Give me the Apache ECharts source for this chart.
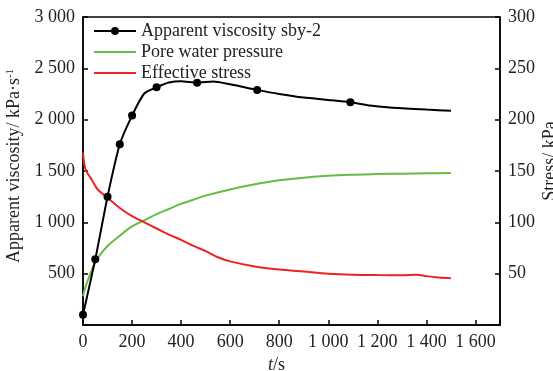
<!DOCTYPE html>
<html>
<head>
<meta charset="utf-8">
<script src="https://cdn.jsdelivr.net/npm/echarts@6/dist/echarts.min.js"></script>
<style>
html,body{margin:0;padding:0;background:#fff;}
#chart{width:553px;height:371px;}
</style>
</head>
<body>
<div id="chart"></div>
<script>
// apparent viscosity (kPa·s^-1), left axis
var viscTime = [0,50,100,150,200,250,300,350,400,465,530,600,710,800,900,1000,1090,1170,1250,1300,1400,1500];
var viscVal  = [100,640,1250,1760,2040,2255,2315,2362,2375,2360,2372,2345,2290,2250,2215,2192,2170,2138,2118,2112,2098,2086];
var viscMarkerTime = [0,50,100,150,200,300,465,710,1090];
// pore water pressure (kPa), right axis
var poreTime = [0,10,25,50,75,100,150,200,250,300,350,400,450,500,600,700,800,900,1000,1100,1200,1300,1400,1500];
var poreVal  = [28,37,47,61,70,77,87,96,102,108,113,118,122,126,132,137,141,143.5,145.3,146.3,147,147.4,147.8,148];
// effective stress (kPa), right axis
var effTime = [0,10,37,60,100,150,200,250,300,350,400,450,500,550,600,700,800,900,1000,1100,1200,1300,1360,1400,1450,1500];
var effVal  = [168,152,141,132,124,114,106,100,94,88,83,77,72,66,62,57,54,52,50,49,48.6,48.5,49,47.6,46.3,45.5];

var xTicks = [0,200,400,600,800,1000,1200,1400,1600];

function spaced(v){
    // 1000 -> "1 000"
    var s = String(v);
    if(s.length > 3){ s = s.slice(0, s.length-3) + ' ' + s.slice(-3); }
    return s;
}

var viscData = [];
for(var i=0;i<viscTime.length;i++){
    var item = {value:[viscTime[i], viscVal[i]]};
    if(viscMarkerTime.indexOf(viscTime[i]) < 0){ item.symbol = 'none'; }
    viscData.push(item);
}
var poreData = poreTime.map(function(t,i){ return [t, poreVal[i]]; });
var effData = effTime.map(function(t,i){ return [t, effVal[i]]; });

var font = 'Liberation Serif';
var txt = '#222';

var myChart = echarts.init(document.getElementById('chart'));
var option = {
    animation:false,
    textStyle:{fontFamily:font},
    grid:{left:83,right:53,top:17,bottom:46,outerBoundsMode:'none',containLabel:false,
        show:true,borderColor:'#000',borderWidth:1.5,backgroundColor:'transparent'},
    legend:{
        orient:'vertical',left:88,top:17,itemWidth:42,itemHeight:10,itemGap:3,
        textStyle:{fontFamily:font,fontSize:18,color:txt,lineHeight:18},
        data:['Apparent viscosity sby-2','Pore water pressure','Effective stress']
    },
    xAxis:{
        type:'value',min:0,max:1700,interval:200,
        name:'{i|t}/s',nameLocation:'middle',nameGap:30,
        nameTextStyle:{fontFamily:font,fontSize:18,color:txt,padding:[0,30,0,0],
            rich:{i:{fontStyle:'italic',fontFamily:font,fontSize:18,color:txt}}},
        axisLine:{lineStyle:{color:'#000',width:1.5}},
        axisTick:{inside:true,length:5,lineStyle:{color:'#000',width:1.5}},
        axisLabel:{fontFamily:font,fontSize:18,color:txt,margin:8,
            formatter:function(v){ return xTicks.indexOf(v) < 0 ? '' : spaced(v); }},
        splitLine:{show:false}
    },
    yAxis:[{
        type:'value',min:0,max:3000,interval:500,position:'left',
        name:'Apparent viscosity/ kPa·s{s|-1}',nameLocation:'middle',nameGap:58,
        nameTextStyle:{fontFamily:font,fontSize:18,color:txt,padding:[0,0,0,10],
            rich:{s:{fontFamily:font,fontSize:11,color:txt,verticalAlign:'top',padding:[0,0,8,0]}}},
        axisLine:{show:true,lineStyle:{color:'#000',width:1.5}},
        axisTick:{inside:true,length:5,lineStyle:{color:'#000',width:1.5}},
        axisLabel:{fontFamily:font,fontSize:18,color:txt,margin:8,
            formatter:function(v){ return v === 0 ? '' : spaced(v); }},
        splitLine:{show:false}
    },{
        type:'value',min:0,max:300,interval:50,position:'right',
        name:'Stress/ kPa',nameLocation:'middle',nameGap:41,nameRotate:90,nameMoveOverlap:false,
        nameTextStyle:{fontFamily:font,fontSize:18,color:txt,padding:[0,0,0,20]},
        axisLine:{show:true,lineStyle:{color:'#000',width:1.5}},
        axisTick:{inside:true,length:5,lineStyle:{color:'#000',width:1.5}},
        axisLabel:{fontFamily:font,fontSize:18,color:txt,margin:8,
            formatter:function(v){ return v === 0 ? '' : String(v); }},
        splitLine:{show:false}
    }],
    series:[{
        name:'Apparent viscosity sby-2',type:'line',yAxisIndex:0,
        data:viscData,symbol:'circle',symbolSize:8,smooth:0.2,
        lineStyle:{color:'#000',width:2},itemStyle:{color:'#000'},z:5
    },{
        name:'Pore water pressure',type:'line',yAxisIndex:1,
        data:poreData,symbol:'none',smooth:0.3,
        lineStyle:{color:'#66bb44',width:2},itemStyle:{color:'#66bb44',opacity:0}
    },{
        name:'Effective stress',type:'line',yAxisIndex:1,
        data:effData,symbol:'none',smooth:0.3,
        lineStyle:{color:'#ee2222',width:2},itemStyle:{color:'#ee2222',opacity:0}
    }]
};
myChart.setOption(option);
</script>
</body>
</html>
